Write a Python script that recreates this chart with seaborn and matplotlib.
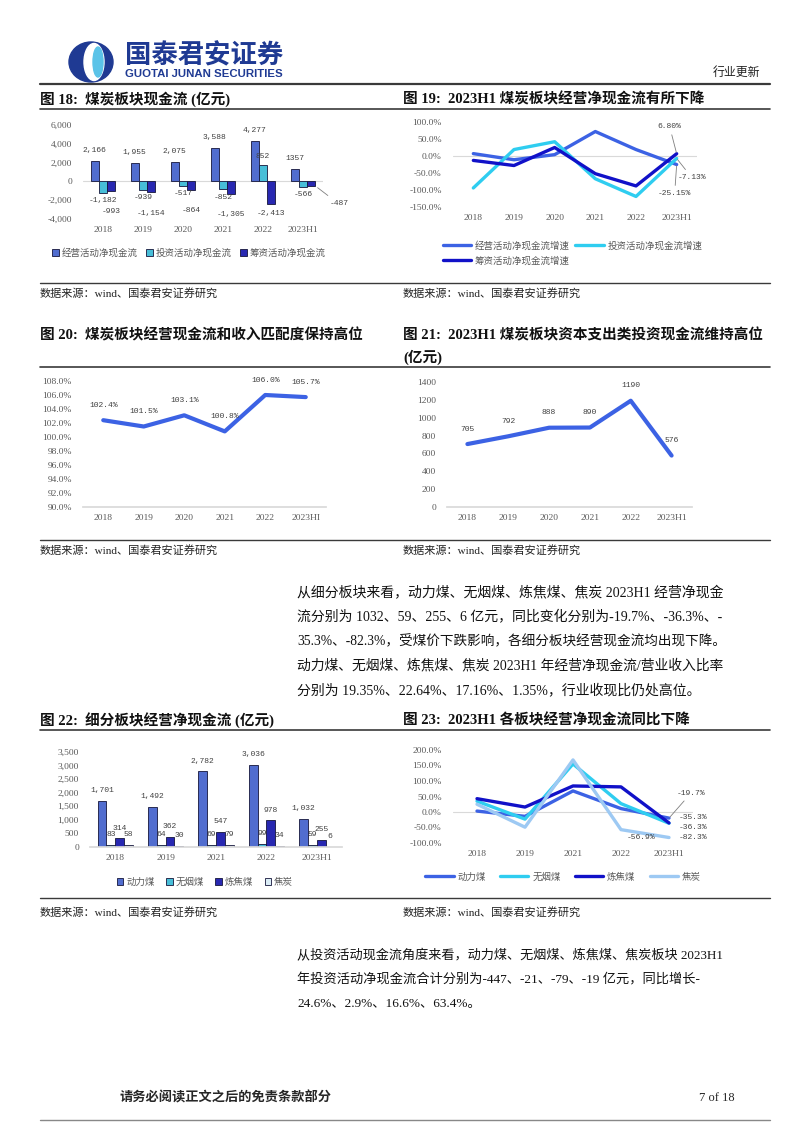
import numpy as np
import pandas as pd
import matplotlib
matplotlib.use('Agg')
import matplotlib.pyplot as plt
import seaborn as sns
from matplotlib.patches import Ellipse

W, H = 802, 1133

# ---------------- data ----------------
years6 = ['2018', '2019', '2020', '2021', '2022', '2023H1']
op_cf = [2166, 1955, 2075, 3588, 4277, 1357]
op_cf_labels = ['2,166', '1,955', '2,075', '3,588', '4,277', '1357']
inv_cf = [-1182, -939, -517, -852, 1790, -566]
inv_cf_labels = ['-1,182', '-939', '-517', '-852', '852', '-566']
fin_cf = [-993, -1154, -864, -1305, -2413, -487]
cf_names = ['经营活动净现金流', '投资活动净现金流', '筹资活动净现金流']

op_growth = [0.07, -0.11, 0.04, 0.72, 0.19, -0.2515]
inv_growth = [-0.94, 0.19, 0.42, -0.67, -1.19, -0.0713]
fin_growth = [-0.13, -0.28, 0.25, -0.52, -0.88, 0.068]
growth_names = ['经营活动净现金流增速', '投资活动净现金流增速', '筹资活动净现金流增速']

cash_rev_ratio = [1.024, 1.015, 1.031, 1.008, 1.060, 1.057]
capex_inv = [705, 792, 888, 890, 1190, 576]

years5 = ['2018', '2019', '2021', '2022', '2023H1']
seg_names = ['动力煤', '无烟煤', '炼焦煤', '焦炭']
steam = [1701, 1492, 2782, 3036, 1032]
anthracite = [83, 64, 69, 99, 59]
coking_coal = [314, 362, 547, 978, 255]
coke = [58, 30, 79, 34, 6]

steam_g = [0.03, -0.14, 0.68, 0.11, -0.197]
anth_g = [0.35, -0.23, 1.55, 0.27, -0.363]
coking_g = [0.43, 0.16, 0.84, 0.81, -0.353]
coke_g = [0.25, -0.49, 1.68, -0.569, -0.823]

ROYAL = '#3C62E4'
CYAN = '#2FCDF0'
DARK = '#1111C8'
LIGHT = '#9DC9F3'
PALE = '#D6EEFA'
TICK = '#595959'

sns.set_theme(style='white')
plt.rcParams['font.family'] = ['Liberation Serif', 'Noto Sans CJK SC']
plt.rcParams['axes.unicode_minus'] = False

MONO = ['Liberation Mono', 'DejaVu Sans Mono']
LBL = dict(fontsize=5.8, color='#404040', family=MONO)

fig = plt.figure(figsize=(W / 100, H / 100), dpi=100)
page = fig.add_axes([0, 0, 1, 1])
page.set_xlim(0, W)
page.set_ylim(H, 0)
page.axis('off')


def add_ax(x0, y0, x1, y1):
    ax = fig.add_axes([x0 / W, 1 - y1 / H, (x1 - x0) / W, (y1 - y0) / H])
    ax.patch.set_alpha(0)
    for s in ax.spines.values():
        s.set_visible(False)
    ax.tick_params(length=0, labelsize=6.8, labelcolor=TICK)
    ax.tick_params(axis='y', pad=8)
    ax.tick_params(axis='x', pad=5)
    return ax


def relegend(ax, cx, cy, order=None, **kw):
    old = ax.get_legend()
    handles = list(old.legend_handles)
    labels = [t.get_text() for t in old.get_texts()]
    old.remove()
    if order is not None:
        handles = [handles[i] for i in order]
        labels = [labels[i] for i in order]
    leg = ax.legend(handles, labels, frameon=False, bbox_to_anchor=(cx / W, 1 - cy / H),
                    bbox_transform=fig.transFigure, prop={'size': 6.8}, **kw)
    for t in leg.get_texts():
        t.set_color(TICK)
    return leg


# ---------------- page furniture ----------------
page.add_patch(Ellipse((91, 62), 44, 40, color='#1F3A93'))
page.add_patch(Ellipse((94, 62), 20, 37, color='white'))
page.add_patch(Ellipse((98, 62), 10, 30, color='#5BC3E8'))
page.text(125, 56, '国泰君安证券', fontsize=19, weight='bold', color='#1F3A93', va='center')
page.text(125, 74, 'GUOTAI JUNAN SECURITIES', fontsize=8.2, weight='bold', color='#1F3A93',
          va='center', family=['Liberation Sans'])
page.text(760, 73, '行业更新', fontsize=8.6, ha='right', va='center', color='#222222')

for yy, lw in [(84, 1.6), (109, 1.2), (283, 1.0), (367, 1.2), (540, 1.0), (730, 1.2), (898, 1.0)]:
    page.plot([40, 770], [yy, yy], color='#3a3a3a', lw=lw)
page.plot([40, 770], [1120, 1120], color='#888888', lw=1.0)

TT = dict(fontsize=10.5, weight='bold', va='center', color='#111111')
page.text(40, 99, '图 18:  煤炭板块现金流 (亿元)', **TT)
page.text(403, 99, '图 19:  2023H1 煤炭板块经营净现金流有所下降', **TT)
page.text(40, 335, '图 20:  煤炭板块经营现金流和收入匹配度保持高位', **TT)
page.text(403, 335, '图 21:  2023H1 煤炭板块资本支出类投资现金流维持高位', **TT)
page.text(403, 357, '(亿元)', **TT)
page.text(40, 720, '图 22:  细分板块经营净现金流 (亿元)', **TT)
page.text(403, 720, '图 23:  2023H1 各板块经营净现金流同比下降', **TT)

SRC = '数据来源：wind、国泰君安证券研究'
for yy in (293, 550, 912):
    page.text(40, yy, SRC, fontsize=8, va='center', color='#222222')
    page.text(403, yy, SRC, fontsize=8, va='center', color='#222222')

para1 = [
    '从细分板块来看，动力煤、无烟煤、炼焦煤、焦炭 2023H1 经营净现金',
    '流分别为 1032、59、255、6 亿元，同比变化分别为-19.7%、-36.3%、-',
    '35.3%、-82.3%，受煤价下跌影响，各细分板块经营现金流均出现下降。',
    '动力煤、无烟煤、炼焦煤、焦炭 2023H1 年经营净现金流/营业收入比率',
    '分别为 19.35%、22.64%、17.16%、1.35%，行业收现比仍处高位。',
]
para_texts = []
for i, line in enumerate(para1):
    para_texts.append(page.text(297, 593 + i * 24.3, line, fontsize=10, va='center',
                                color='#111111'))

para2 = [
    '从投资活动现金流角度来看，动力煤、无烟煤、炼焦煤、焦炭板块 2023H1',
    '年投资活动净现金流合计分别为-447、-21、-79、-19 亿元，同比增长-',
    '24.6%、2.9%、16.6%、63.4%。',
]
for i, line in enumerate(para2):
    para_texts.append(page.text(297, 956 + i * 24, line, fontsize=9.5, va='center',
                                color='#111111'))

page.text(120, 1098, '请务必阅读正文之后的免责条款部分', fontsize=9.5, weight='bold', va='center')
page.text(735, 1098, '7 of 18', fontsize=9, ha='right', va='center')

# ---------------- chart 18: cash flows ----------------
ax = add_ax(83, 125, 323, 219)
df18 = pd.DataFrame({
    'year': years6 * 3,
    'value': op_cf + inv_cf + fin_cf,
    'series': [n for n in cf_names for _ in years6],
})
sns.barplot(data=df18, x='year', y='value', hue='series', hue_order=cf_names,
            palette=[ROYAL, CYAN, DARK], width=0.62, errorbar=None,
            edgecolor='#15153a', linewidth=0.6, ax=ax)
ax.axhline(0, color='#d9d9d9', lw=0.8, zorder=0)
ax.set_ylim(-4000, 6000)
ax.set_yticks(range(-4000, 6001, 2000))
ax.yaxis.set_major_formatter(matplotlib.ticker.FuncFormatter(lambda v, p: f'{v:,.0f}'))
ax.set_xlim(-0.5, 5.5)
ax.set_xlabel('')
ax.set_ylabel('')
c_op, c_inv, c_fin = ax.containers[:3]
ax.bar_label(c_op, labels=op_cf_labels, padding=5, **LBL)
ax.bar_label(c_inv, labels=inv_cf_labels, padding=3, **LBL)
# financing labels: pushed lower when the investing label sits right next to them
for i, (bar, v) in enumerate(zip(c_fin.patches, fin_cf)):
    xc = bar.get_x() + bar.get_width() / 2
    if i == len(fin_cf) - 1:
        ax.annotate(f'{v:,}', (bar.get_x() + bar.get_width(), v), xytext=(14, -18),
                    textcoords='offset pixels', ha='left', va='center',
                    arrowprops=dict(arrowstyle='-', color='#7f7f7f', lw=0.6), **LBL)
        continue
    off = 9 if (inv_cf[i] > 0 or inv_cf[i] - v > 1000) else 21
    ax.annotate(f'{v:,}', (xc, v), xytext=(0, -off), textcoords='offset pixels',
                ha='center', va='center', **LBL)
relegend(ax, 189, 253, loc='center', ncol=3, handlelength=0.7, handleheight=0.7,
         handletextpad=0.3, columnspacing=0.9)

# ---------------- chart 19: growth ----------------
ax = add_ax(453, 122, 697, 207)
df19 = pd.DataFrame({
    'xi': list(range(6)) * 3,
    'value': op_growth + inv_growth + fin_growth,
    'series': [n for n in growth_names for _ in years6],
})
sns.lineplot(data=df19, x='xi', y='value', hue='series', hue_order=growth_names,
             palette=[ROYAL, CYAN, DARK], linewidth=2.4, sort=False, ax=ax)
ax.axhline(0, color='#d9d9d9', lw=0.8, zorder=0)
ax.set_ylim(-1.5, 1.0)
ax.set_yticks(np.arange(-1.5, 1.01, 0.5))
ax.yaxis.set_major_formatter(matplotlib.ticker.FuncFormatter(lambda v, p: f'{v * 100:.1f}%'))
ax.set_xlim(-0.5, 5.5)
ax.set_xticks(range(6))
ax.set_xticklabels(years6)
ax.set_xlabel('')
ax.set_ylabel('')
LEAD = dict(arrowstyle='-', color='#7f7f7f', lw=0.6, shrinkA=1, shrinkB=1)
ax.annotate(f'{fin_growth[-1] * 100:.2f}%', (5, fin_growth[-1]), xytext=(-7, 27),
            textcoords='offset pixels', ha='center', va='center', arrowprops=LEAD, **LBL)
ax.annotate(f'{inv_growth[-1] * 100:.2f}%', (5, inv_growth[-1]), xytext=(15, -19),
            textcoords='offset pixels', ha='center', va='center', arrowprops=LEAD, **LBL)
ax.annotate(f'{op_growth[-1] * 100:.2f}%', (5, op_growth[-1]), xytext=(-2, -29),
            textcoords='offset pixels', ha='center', va='center', arrowprops=LEAD, **LBL)
relegend(ax, 434, 232, order=[0, 2, 1], loc='upper left', ncol=2, handlelength=3.0,
         handletextpad=0.4, columnspacing=0.6, labelspacing=0.6)

# ---------------- chart 20: cash / revenue ----------------
ax = add_ax(83, 381, 326, 507)
sns.lineplot(x=list(range(6)), y=cash_rev_ratio, color=ROYAL, linewidth=3, ax=ax)
ax.spines['bottom'].set_visible(True)
ax.spines['bottom'].set_color('#d9d9d9')
ax.set_ylim(0.90, 1.08)
ax.set_yticks(np.arange(0.90, 1.0801, 0.02))
ax.yaxis.set_major_formatter(matplotlib.ticker.FuncFormatter(lambda v, p: f'{v * 100:.1f}%'))
ax.set_xlim(-0.5, 5.5)
ax.set_xticks(range(6))
ax.set_xticklabels([y.replace('H1', 'HI') for y in years6])
for i, v in enumerate(cash_rev_ratio):
    ax.annotate(f'{v * 100:.1f}%', (i, v), xytext=(0, 15), textcoords='offset pixels',
                ha='center', va='center', **LBL)

# ---------------- chart 21: capex ----------------
ax = add_ax(447, 382, 692, 507)
sns.lineplot(x=list(range(6)), y=capex_inv, color=ROYAL, linewidth=3, ax=ax)
ax.spines['bottom'].set_visible(True)
ax.spines['bottom'].set_color('#d9d9d9')
ax.set_ylim(0, 1400)
ax.set_yticks(range(0, 1401, 200))
ax.set_xlim(-0.5, 5.5)
ax.set_xticks(range(6))
ax.set_xticklabels(years6)
for i, v in enumerate(capex_inv):
    ax.annotate(f'{v}', (i, v), xytext=(0, 15), textcoords='offset pixels',
                ha='center', va='center', **LBL)

# ---------------- chart 22: segment operating CF ----------------
ax = add_ax(90, 752, 342, 847)
df22 = pd.DataFrame({
    'year': years5 * 4,
    'value': steam + anthracite + coking_coal + coke,
    'series': [n for n in seg_names for _ in years5],
})
sns.barplot(data=df22, x='year', y='value', hue='series', hue_order=seg_names,
            palette=[ROYAL, CYAN, DARK, PALE], width=0.7, errorbar=None,
            edgecolor='#15153a', linewidth=0.6, ax=ax)
ax.spines['bottom'].set_visible(True)
ax.spines['bottom'].set_color('#d9d9d9')
ax.set_ylim(0, 3500)
ax.set_yticks(range(0, 3501, 500))
ax.yaxis.set_major_formatter(matplotlib.ticker.FuncFormatter(lambda v, p: f'{v:,.0f}'))
ax.set_xlim(-0.5, 4.5)
ax.set_xlabel('')
ax.set_ylabel('')
for cont, vals in zip(ax.containers[:4], [steam, anthracite, coking_coal, coke]):
    ax.bar_label(cont, labels=[f'{v:,}' for v in vals], padding=5, zorder=0.5, **LBL)
relegend(ax, 205, 882, loc='center', ncol=4, handlelength=0.7, handleheight=0.7,
         handletextpad=0.3, columnspacing=1.2)

# ---------------- chart 23: segment growth ----------------
ax = add_ax(453, 750, 693, 843)
df23 = pd.DataFrame({
    'xi': list(range(5)) * 4,
    'value': steam_g + anth_g + coking_g + coke_g,
    'series': [n for n in seg_names for _ in years5],
})
sns.lineplot(data=df23, x='xi', y='value', hue='series', hue_order=seg_names,
             palette=[ROYAL, CYAN, DARK, LIGHT], linewidth=2.4, sort=False, ax=ax)
ax.axhline(0, color='#d9d9d9', lw=0.8, zorder=0)
ax.set_ylim(-1.0, 2.0)
ax.set_yticks(np.arange(-1.0, 2.01, 0.5))
ax.yaxis.set_major_formatter(matplotlib.ticker.FuncFormatter(lambda v, p: f'{v * 100:.1f}%'))
ax.set_xlim(-0.5, 4.5)
ax.set_xticks(range(5))
ax.set_xticklabels(years5)
ax.set_xlabel('')
ax.set_ylabel('')
ax.annotate(f'{steam_g[-1] * 100:.1f}%', (4, steam_g[-1]), xytext=(22, 25),
            textcoords='offset pixels', ha='center', va='center', arrowprops=LEAD, **LBL)
ax.annotate(f'{coking_g[-1] * 100:.1f}%', (4, coking_g[-1]), xytext=(24, 5),
            textcoords='offset pixels', ha='center', va='center', **LBL)
ax.annotate(f'{anth_g[-1] * 100:.1f}%', (4, anth_g[-1]), xytext=(24, -4),
            textcoords='offset pixels', ha='center', va='center', **LBL)
ax.annotate(f'{coke_g[-1] * 100:.1f}%', (4, coke_g[-1]), xytext=(24, 0),
            textcoords='offset pixels', ha='center', va='center', **LBL)
ax.annotate(f'{coke_g[3] * 100:.1f}%', (3, coke_g[3]), xytext=(20, -8),
            textcoords='offset pixels', ha='center', va='center', **LBL)
relegend(ax, 563, 877, loc='center', ncol=4, handlelength=3.0, handletextpad=0.4,
         columnspacing=1.5)

# keep paragraph lines inside the text column (right edge ~ x=727)
fig.canvas.draw()
renderer = fig.canvas.get_renderer()
for t in para_texts:
    wpx = t.get_window_extent(renderer).width
    if wpx > 428:
        t.set_fontsize(t.get_fontsize() * 428 / wpx)

fig.savefig('out.png', dpi=100)
